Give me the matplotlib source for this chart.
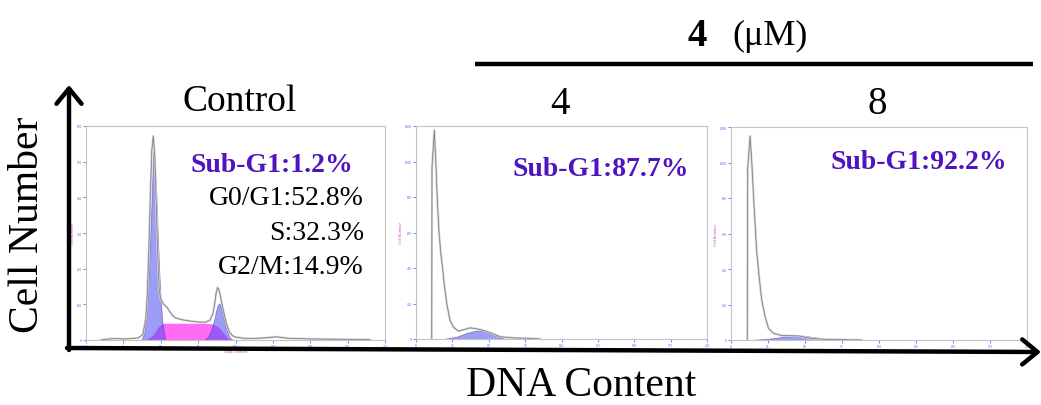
import matplotlib
matplotlib.use("Agg")
import matplotlib.pyplot as plt

W, H = 1041, 406

# ---- data (channel, cell count) ----
# Control
ctrl_raw_ch = [10, 15, 20, 25, 30, 35, 38, 40, 41, 42, 43, 44, 45, 46, 47, 48, 49, 50, 52, 54,
               56, 58, 60, 64, 68, 72, 76, 80, 83, 85, 86, 87, 88, 89, 90, 92, 94, 96, 98, 100,
               105, 110, 120, 127, 135, 150, 170, 190]
ctrl_raw_n = [0, 3, 4, 3, 4, 6, 15, 60, 130, 250, 400, 530, 572, 520, 380, 230, 140, 115, 100, 92,
              80, 68, 62, 57, 54, 52, 50, 50, 56, 75, 100, 130, 147, 140, 120, 80, 45, 22, 12, 8,
              5, 4, 6, 9, 5, 3, 2, 1]
ctrl_g1_ch = [37, 38, 39, 40, 41, 42, 43, 44, 45, 46, 47, 48, 49, 50, 51, 52, 53]
ctrl_g1_n = [0, 9, 23, 53, 108, 190, 297, 408, 527, 494, 408, 297, 190, 108, 53, 23, 0]
ctrl_g2_ch = [79, 81, 83, 85, 86, 87, 88, 89, 90, 91, 92, 94, 96, 98]
ctrl_g2_n = [0, 6, 20, 45, 62, 82, 97, 103, 97, 82, 62, 28, 8, 0]
ctrl_s_ch = [40, 45, 48, 51, 60, 70, 80, 85, 89, 92, 95, 97]
ctrl_s_n = [0, 15, 35, 47, 47, 47, 47, 45, 35, 20, 5, 0]

# 4 uM
c4_raw_ch = [10.8, 11.0, 12.6, 13.5, 14.7, 15.8, 17.0, 18.1, 19.3, 21.1, 23.4, 25.7, 29.1,
             32.6, 37.2, 44.0, 50.9, 57.8, 67.0, 76.1, 85.3]
c4_raw_n = [0, 966, 1177, 1024, 775, 603, 488, 411, 316, 201, 105, 67, 44,
            52, 63, 54, 36, 13, 6, 4, 0]
c4_fit_ch = [18.8, 28.0, 34.9, 40.0, 44.0, 48.0, 50.9, 57.8, 61.2]
c4_fit_n = [0, 13, 34, 45, 48, 43, 34, 10, 0]

# 8 uM
c8_raw_ch = [11.0, 11.3, 12.9, 14.0, 15.8, 17.4, 19.2, 20.7, 23.0, 25.3, 28.6, 34.3, 45.5,
             54.6, 63.6, 88.4]
c8_raw_n = [0, 968, 1149, 1006, 722, 494, 342, 228, 133, 66, 38, 25, 23,
            9, 4, 0]
c8_fit_ch = [14.0, 27.5, 36.5, 47.8, 56.8, 63.6, 67.0]
c8_fit_n = [0, 9, 19, 25, 15, 4, 0]

panel_titles = ["Control", "4", "8"]
subg1_labels = ["Sub-G1:1.2%", "Sub-G1:87.7%", "Sub-G1:92.2%"]
phase_labels = ["G0/G1:52.8%", "S:32.3%", "G2/M:14.9%"]

plt.rcParams["font.family"] = ["Liberation Serif", "DejaVu Serif"]

fig = plt.figure(figsize=(W / 100, H / 100), dpi=100)

BLUE = (0.3, 0.3, 0.95)
MAG = "#ff6bf5"
TXT_PURPLE = "#5014be"


def make_panel(l, t, r, b, ymax):
    ax = fig.add_axes([l / W, 1 - b / H, (r - l) / W, (b - t) / H])
    ax.set_xlim(0, 200)
    ax.set_ylim(0, ymax)
    ax.set_xticks(range(0, 201, 25))
    ax.set_yticks([ymax * i / 6 for i in range(7)])
    ax.tick_params(colors="#4050ff", labelsize=2.5, length=2, width=0.5, pad=1)
    for s in ax.spines.values():
        s.set_color("#c4c4c4")
        s.set_linewidth(0.8)
    ax.set_ylabel("Cell Number", color="#d040c0", fontsize=2.5, family="DejaVu Sans", labelpad=1)
    ax.set_xlabel("DNA Content", color="#d040c0", fontsize=2.5, family="DejaVu Sans", labelpad=0.5)
    return ax


def raw_line(ax, x, y):
    ax.plot(x, y, color="#d2d2d2", lw=1.6, zorder=4)
    ax.plot(x, y, color="#7a7a7a", lw=0.5, zorder=5)


# Control panel
ax1 = make_panel(86, 127, 385, 341, 600)
ax1.fill_between(ctrl_s_ch, ctrl_s_n, color=MAG, lw=0, zorder=1)
ax1.fill_between(ctrl_g1_ch, ctrl_g1_n, color=BLUE, alpha=0.55, lw=0.6, edgecolor="#4a3ab0", zorder=2)
ax1.fill_between(ctrl_g2_ch, ctrl_g2_n, color=BLUE, alpha=0.55, lw=0.6, edgecolor="#4a3ab0", zorder=2)
raw_line(ax1, ctrl_raw_ch, ctrl_raw_n)

# 4 uM panel
ax2 = make_panel(416, 127, 707, 340, 1200)
ax2.fill_between(c4_fit_ch, c4_fit_n, color=BLUE, alpha=0.55, lw=0.6, edgecolor="#4a3ab0", zorder=2)
raw_line(ax2, c4_raw_ch, c4_raw_n)

# 8 uM panel
ax3 = make_panel(731, 128, 1027, 341, 1200)
ax3.fill_between(c8_fit_ch, c8_fit_n, color=BLUE, alpha=0.55, lw=0.6, edgecolor="#4a3ab0", zorder=2)
raw_line(ax3, c8_raw_ch, c8_raw_n)

# overlay in pixel coordinates for the annotations
ov = fig.add_axes([0, 0, 1, 1], facecolor="none")
ov.set_xlim(0, W)
ov.set_ylim(H, 0)
ov.axis("off")

# big axes arrows
arrow_kw = dict(arrowstyle="->,head_length=0.55,head_width=0.45", lw=3.2, color="black",
                mutation_scale=20, shrinkA=0, shrinkB=0)
ov.annotate("", xy=(69, 86), xytext=(69, 351), arrowprops=arrow_kw)
ov.annotate("", xy=(1041, 353), xytext=(67, 349), arrowprops=arrow_kw)

ov.text(28, 225, "Cell Number", rotation=90, fontsize=30, ha="center", va="center")
ov.text(581, 386, "DNA Content", fontsize=30, ha="center", va="center")

# panel titles
ov.text(240, 102, panel_titles[0], fontsize=27, ha="center", va="center")
ov.text(560, 104, panel_titles[1], fontsize=28, ha="center", va="center")
ov.text(877, 104, panel_titles[2], fontsize=28, ha="center", va="center")

# concentration header
ov.text(697, 36, "4", fontsize=28, weight="bold", ha="center", va="center")
ov.text(732, 36, "(\u03bcM)", fontsize=26, ha="left", va="center")
ov.plot([475, 1033], [65, 65], color="black", lw=3.2, solid_capstyle="butt")

# percentages
ov.text(191, 166, subg1_labels[0], fontsize=20, weight="bold", color=TXT_PURPLE, ha="left", va="center")
for lab, yy in zip(phase_labels, [199, 234, 268]):
    ov.text(364, yy, lab, fontsize=20, ha="right", va="center")
ov.text(513, 170, subg1_labels[1], fontsize=20, weight="bold", color=TXT_PURPLE, ha="left", va="center")
ov.text(830, 163, subg1_labels[2], fontsize=20, weight="bold", color=TXT_PURPLE, ha="left", va="center")

fig.savefig("out.png", dpi=100)
